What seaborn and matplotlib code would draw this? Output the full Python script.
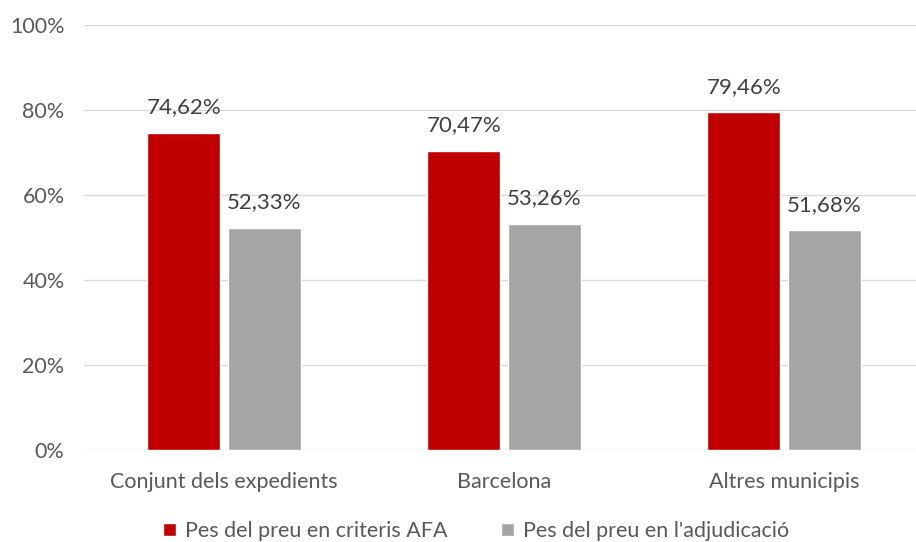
import matplotlib
matplotlib.use("Agg")
import matplotlib.pyplot as plt
import seaborn as sns
import pandas as pd

categories = ["Conjunt dels expedients", "Barcelona", "Altres municipis"]
series_names = ["Pes del preu en criteris AFA", "Pes del preu en l'adjudicació"]
afa = [74.62, 70.47, 79.46]
adj = [52.33, 53.26, 51.68]
yticks = [0, 20, 40, 60, 80, 100]

df = pd.DataFrame({
    "cat": categories * 2,
    "serie": [series_names[0]] * 3 + [series_names[1]] * 3,
    "val": afa + adj,
})

sns.set_theme(style="white")
plt.rcParams["font.family"] = ["Lato", "DejaVu Sans"]

fig = plt.figure(figsize=(9.16, 5.42), dpi=100)
ax = fig.add_axes([84 / 916, 92 / 542, (916 - 84) / 916, (450 - 25) / 542])

palette = {series_names[0]: "#C00000", series_names[1]: "#A5A5A5"}
sns.barplot(data=df, x="cat", y="val", hue="serie", order=categories,
            hue_order=series_names, palette=palette, width=0.575, gap=0.09,
            saturation=1, ax=ax, legend=True, zorder=3)

ax.set_xlim(-0.5, -0.5 + (916 - 84) / 280)
ax.set_ylim(0, 100)
ax.set_yticks(yticks)
ax.set_yticklabels([f"{t}%" for t in yticks])
ax.yaxis.grid(True, color="#D9D9D9", linewidth=1, zorder=0)
ax.set_axisbelow(True)
for s in ax.spines.values():
    s.set_visible(False)
ax.tick_params(axis="both", length=0, labelsize=15.5, labelcolor="#595959")
ax.tick_params(axis="y", pad=14)
ax.tick_params(axis="x", pad=16)
ax.set_xlabel("")
ax.set_ylabel("")

for cont in ax.containers:
    labels = [f"{v:.2f}%".replace(".", ",") for v in cont.datavalues]
    ax.bar_label(cont, labels=labels, padding=11, fontsize=16, color="#404040")

handles, lbls = ax.get_legend_handles_labels()
ax.legend(handles, lbls, loc="center", bbox_to_anchor=((476 - 84) / 832, -(531 - 450) / 425),
          ncol=2, frameon=False, fontsize=15.5, labelcolor="#595959",
          handlelength=0.6, handleheight=0.6, handletextpad=0.4, columnspacing=2.5)

fig.savefig("out.png", dpi=100)
